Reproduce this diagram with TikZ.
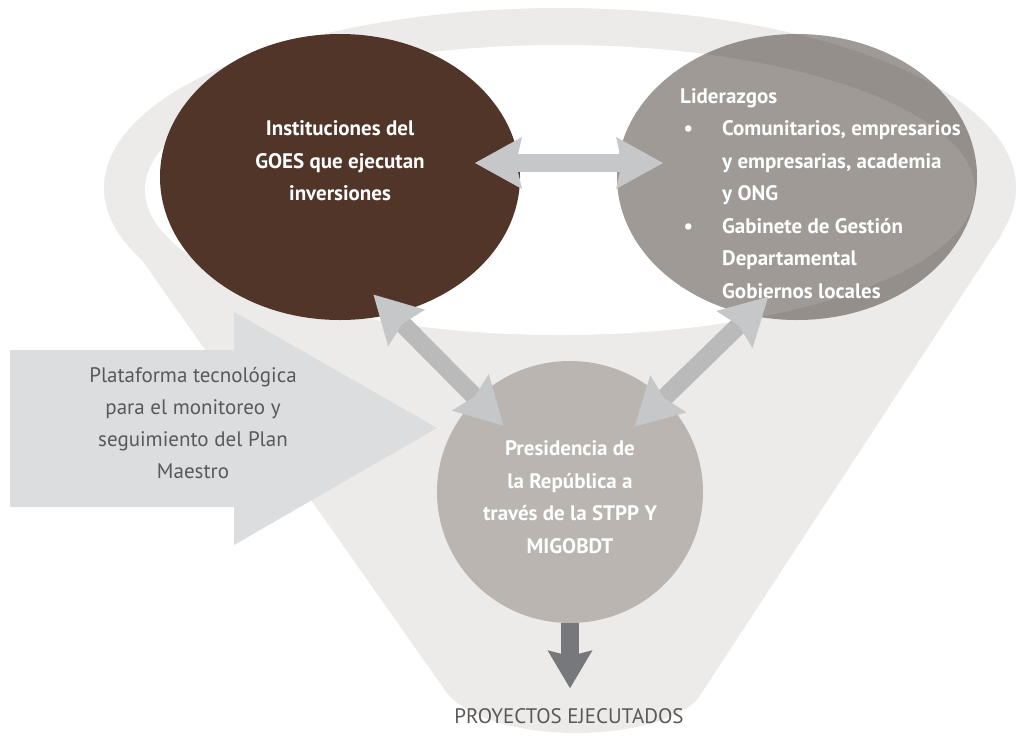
\documentclass[tikz,border=0pt]{standalone}
\usepackage{fontspec}
\setmainfont{PT Sans}
\usetikzlibrary{arrows.meta,shapes.geometric}

\definecolor{funnelgray}{HTML}{ECEBE9}
\definecolor{goesbrown}{HTML}{503528}
\definecolor{lidgray}{HTML}{A09A96}
\definecolor{presgray}{HTML}{BAB5B1}
\definecolor{platgray}{HTML}{DCDDDE}
\definecolor{linkgray}{HTML}{C6C7C8}
\definecolor{shaftgray}{HTML}{BBBABB}
\definecolor{outgray}{HTML}{77787B}
\definecolor{txtgray}{HTML}{595959}

\tikzset{
	bubble/.style={ellipse, inner sep=0pt, outer sep=0pt, minimum width=360pt, minimum height=286pt},
	boldtext/.style={text=white, inner sep=0pt, font=\bfseries\fontsize{21}{32.5}\selectfont},
	plaintext/.style={text=txtgray, inner sep=0pt, font=\fontsize{21}{32}\selectfont},
	linktip/.tip={Stealth[length=47pt,width=52pt,inset=6pt,line width=0pt,color=linkgray]},
	outtip/.tip={Stealth[length=38pt,width=45pt,inset=6pt,line width=0pt]},
	twoway/.style={draw=#1, line width=18pt, linktip-linktip},
}

\begin{document}
\begin{tikzpicture}[x=1pt,y=-1pt]
	\useasboundingbox (0,0) rectangle (1018,740);

	%funnel with its ring at the top
	\fill[funnelgray] (560,188) ellipse [x radius=456, y radius=180];
	\fill[funnelgray] (125,236) -- (447,693) .. controls (490,745) and (650,745) .. (697,700) -- (1002,234) -- cycle;
	\fill[white] (560,190) ellipse [x radius=415, y radius=145];

	%the three circles
	\node[bubble, fill=goesbrown] (inst) at (340,177) {};
	\node[bubble, fill=lidgray] (lid) at (797,177) {};
	\node[ellipse, inner sep=0pt, outer sep=0pt, minimum width=266pt, minimum height=262pt, fill=presgray] (pres) at (570,492) {};

	%ring shading over the right circle
	\begin{scope}
		\clip (797,177) ellipse [x radius=180, y radius=143];
		\fill[black, opacity=0.07, even odd rule] (560,188) ellipse [x radius=456, y radius=180] (560,190) ellipse [x radius=415, y radius=145];
	\end{scope}

	%platform arrow
	\fill[platgray] (10,350) -- (234,350) -- (234,312) -- (437,428) -- (234,545) -- (234,507) -- (10,507) -- cycle;

	%texts
	\node[boldtext, align=center] (insttext) at (340,161) {Instituciones del\\GOES que ejecutan\\inversiones};
	\node[boldtext, align=left, anchor=north west] (lidtext) at (680,88) {Liderazgos\\
		\makebox[42pt][l]{\,\textbullet}Comunitarios, empresarios\\
		\hspace*{42pt}y empresarias, academia\\
		\hspace*{42pt}y ONG\\
		\makebox[42pt][l]{\,\textbullet}Gabinete de Gestión\\
		\hspace*{42pt}Departamental\\
		\hspace*{42pt}Gobiernos locales};
	\node[boldtext, align=center] (prestext) at (570,497) {Presidencia de\\la República a\\través de la STPP Y\\MIGOBDT};
	\node[plaintext, align=center] (plat) at (193,423) {Plataforma tecnológica\\para el monitoreo y\\seguimiento del Plan\\Maestro};
	\node[text=txtgray, inner sep=0pt, font=\fontsize{21}{24}\selectfont] (proj) at (569,716) {PROYECTOS EJECUTADOS};

	%links between the circles
	\draw[twoway=linkgray, shorten <=-45pt, shorten >=-46pt] ([yshift=14pt]inst.east) -- ([yshift=14pt]lid.west);
	\draw[twoway=shaftgray, shorten <=-27pt, shorten >=-38pt] (inst.-69.6) -- (pres.135);
	\draw[twoway=shaftgray, shorten <=-26pt, shorten >=-40pt] (lid.-109.5) -- (pres.45);
	\draw[draw=outgray, line width=18pt, -outtip, shorten >=20pt] (pres.south) -- (pres.south |- proj.north);
\end{tikzpicture}
\end{document}
